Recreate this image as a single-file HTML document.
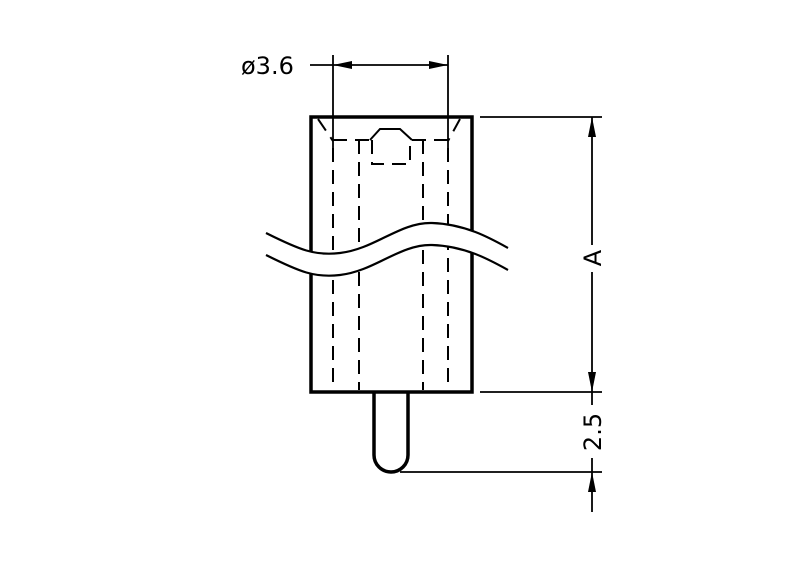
<!DOCTYPE html>
<html><head><style>body{margin:0;background:#fff}svg{display:block}</style></head><body>
<svg width="800" height="576" viewBox="0 0 800 576" xmlns="http://www.w3.org/2000/svg">
<g fill="none" stroke="#000">
<rect x="311" y="117" width="161" height="275" stroke-width="3.5"/>
<path d="M374,393 V455 A17,17 0 0 0 408,455 V393" stroke-width="3.5"/>
<g stroke-width="2" stroke-dasharray="14,8">
<line x1="333" y1="148" x2="333" y2="390"/>
<line x1="359" y1="140" x2="359" y2="390"/>
<line x1="423" y1="140" x2="423" y2="390"/>
<line x1="448" y1="148" x2="448" y2="390"/>
<line x1="318" y1="119" x2="333" y2="141"/>
<line x1="460" y1="119" x2="448" y2="141"/>
<line x1="333" y1="140" x2="370" y2="140"/>
<line x1="412" y1="140" x2="448" y2="140"/>
<path d="M372,140 V164 H410 V140"/>
</g>
<path d="M370,140 L380,129 H400 L412,140" stroke-width="2"/>
<g stroke-width="1.8">
<line x1="333" y1="55" x2="333" y2="148"/>
<line x1="448" y1="55" x2="448" y2="148"/>
<line x1="310" y1="65" x2="448" y2="65"/>
<line x1="480" y1="117" x2="602" y2="117"/>
<line x1="480" y1="392" x2="602" y2="392"/>
<line x1="400" y1="472" x2="602" y2="472"/>
<line x1="592" y1="117" x2="592" y2="245"/>
<line x1="592" y1="272" x2="592" y2="392"/>
<line x1="592" y1="392" x2="592" y2="405"/>
<line x1="592" y1="458" x2="592" y2="472"/>
<line x1="592" y1="472" x2="592" y2="512"/>
</g>
</g>
<g fill="#000">
<polygon points="333,65 352,61 352,69"/>
<polygon points="448,65 429,61 429,69"/>
<polygon points="592,117 588,137 596,137"/>
<polygon points="592,392 588,372 596,372"/>
<polygon points="592,472 588,492 596,492"/>
</g>
<path d="M266,233 C300,250 315,256 340,253 C375,249 400,222 432,223 C465,224 490,238 508,248 L508,270 C490,260 465,246 432,245 C400,244 375,271 340,275 C315,278 300,272 266,255 Z" fill="#fff" stroke="none"/>
<g fill="none" stroke="#000" stroke-width="2.2">
<path d="M266,233 C300,250 315,256 340,253 C375,249 400,222 432,223 C465,224 490,238 508,248"/>
<path d="M266,255 C300,272 315,278 340,275 C375,271 400,244 432,245 C465,246 490,260 508,270"/>
</g>
<g font-family="DejaVu Sans, Liberation Sans, sans-serif" font-size="24" fill="#000">
<text x="241" y="74">ø3.6</text>
<text transform="translate(601,258) rotate(-90)" text-anchor="middle">A</text>
<text transform="translate(601,432) rotate(-90)" text-anchor="middle">2.5</text>
</g>
</svg>
</body></html>
